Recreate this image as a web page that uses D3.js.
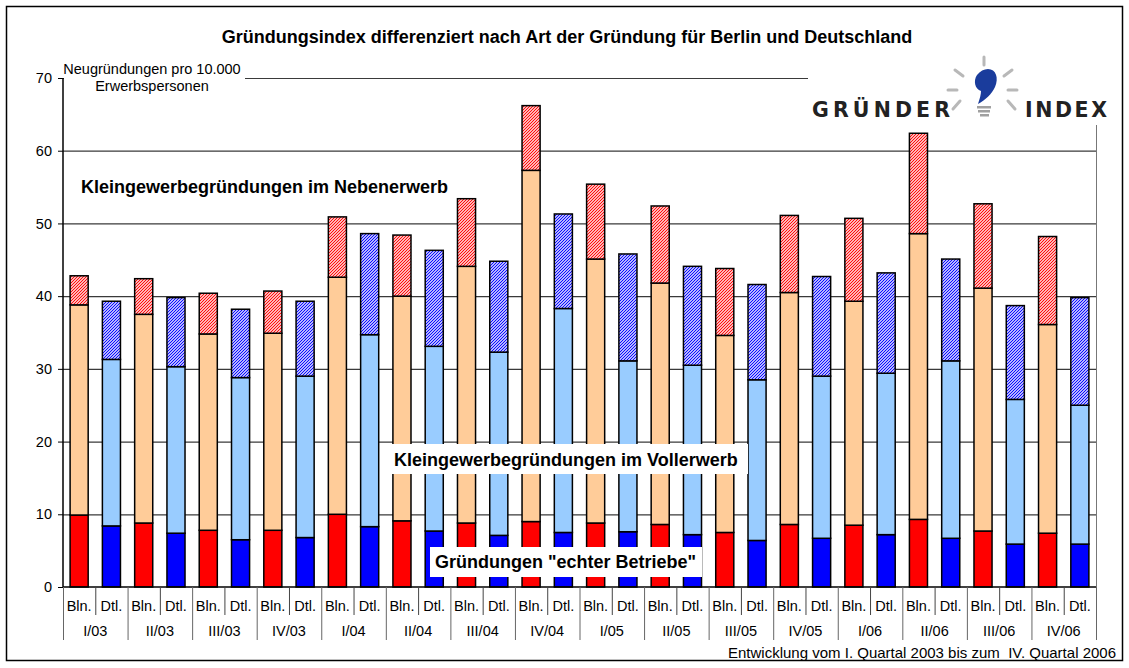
<!DOCTYPE html>
<html>
<head>
<meta charset="utf-8">
<script src="https://cdn.jsdelivr.net/npm/d3@7"></script>
<style>
  body { margin: 0; background: #fff; }
  svg { display: block; font-family: Arial, "Liberation Sans", sans-serif; }
</style>
</head>
<body>
<svg id="chart" width="1129" height="668"></svg>
<script>
// Quarters and regions
const quarters = ["I/03", "II/03", "III/03", "IV/03", "I/04", "II/04", "III/04", "IV/04",
  "I/05", "II/05", "III/05", "IV/05", "I/06", "II/06", "III/06", "IV/06"];
const regions = ["Bln.", "Dtl."];

// Gründungen "echter Betriebe"
const echtBln = [9.9, 8.8, 7.8, 7.8, 10.0, 9.1, 8.8, 9.0, 8.8, 8.6, 7.5, 8.6, 8.5, 9.3, 7.7, 7.4];
const echtDtl = [8.4, 7.4, 6.5, 6.8, 8.3, 7.7, 7.1, 7.5, 7.6, 7.2, 6.4, 6.7, 7.2, 6.7, 5.9, 5.9];
// Kleingewerbegründungen im Vollerwerb
const vollBln = [28.9, 28.7, 27.0, 27.1, 32.6, 30.9, 35.3, 48.3, 36.3, 33.2, 27.1, 31.9, 30.8, 39.3, 33.4, 28.7];
const vollDtl = [22.9, 22.9, 22.3, 22.2, 26.4, 25.4, 25.2, 30.8, 23.5, 23.3, 22.1, 22.3, 22.2, 24.4, 19.9, 19.1];
// Kleingewerbegründungen im Nebenerwerb
const nebenBln = [4.0, 4.9, 5.6, 5.8, 8.3, 8.4, 9.3, 8.9, 10.3, 10.6, 9.2, 10.6, 11.4, 13.8, 11.6, 12.1];
const nebenDtl = [8.0, 9.5, 9.4, 10.3, 13.9, 13.2, 12.5, 13.0, 14.7, 13.6, 13.1, 13.7, 13.8, 14.0, 12.9, 14.8];

const yTicks = [0, 10, 20, 30, 40, 50, 60, 70];

const svg = d3.select("#chart");

// Build one row per bar
const rows = quarters.flatMap((q, i) => [
  { q, r: "Bln.", echt: echtBln[i], voll: vollBln[i], neben: nebenBln[i] },
  { q, r: "Dtl.", echt: echtDtl[i], voll: vollDtl[i], neben: nebenDtl[i] }
]);
const series = d3.stack().keys(["echt", "voll", "neben"])(rows);

// Scales
const plotL = 63, plotR = 1096, plotT = 78, plotB = 587;
const x0 = d3.scaleBand().domain(quarters).range([plotL, plotR]);
const x1 = d3.scaleBand().domain(regions).range([0, x0.bandwidth()])
  .paddingInner(0.44).paddingOuter(0.22);
const y = d3.scaleLinear().domain([0, 70]).range([plotB, plotT]);

const fills = {
  echt: { "Bln.": "#ff0000", "Dtl.": "#0000ff" },
  voll: { "Bln.": "#ffcc99", "Dtl.": "#99ccff" },
  neben: { "Bln.": "url(#hatchRed)", "Dtl.": "url(#hatchBlue)" }
};

// Hatch patterns for Nebenerwerb
const defs = svg.append("defs");
[["hatchRed", "#ff0000"], ["hatchBlue", "#0000ff"]].forEach(([id, c]) => {
  const p = defs.append("pattern").attr("id", id)
    .attr("patternUnits", "userSpaceOnUse").attr("width", 3).attr("height", 3);
  p.append("rect").attr("width", 3).attr("height", 3).attr("fill", "#fff");
  p.append("path").attr("d", "M-1,1 L1,-1 M0,3 L3,0 M2,4 L4,2")
    .attr("stroke", c).attr("stroke-width", 1.1);
});

// Outer frame
svg.append("rect").attr("x", 6.5).attr("y", 6.5).attr("width", 1116).attr("height", 654)
  .attr("fill", "#fff").attr("stroke", "#000").attr("stroke-width", 1.5);

// Title
svg.append("text").attr("x", 567).attr("y", 43).attr("text-anchor", "middle")
  .attr("font-size", 18).attr("font-weight", "bold")
  .text("Gründungsindex differenziert nach Art der Gründung für Berlin und Deutschland");

// Gridlines
svg.append("g").selectAll("line").data(yTicks.filter((d) => d > 0)).join("line")
  .attr("x1", plotL).attr("x2", plotR)
  .attr("y1", (d) => y(d) + 0.5).attr("y2", (d) => y(d) + 0.5)
  .attr("stroke", "#3a3a3a").attr("stroke-width", 1.2);

// Right border of plot area
svg.append("line").attr("x1", plotR + 0.5).attr("x2", plotR + 0.5)
  .attr("y1", plotT).attr("y2", plotB).attr("stroke", "#777");

// Bars
svg.append("g").selectAll("g").data(series).join("g")
  .selectAll("rect").data((s) => s.map((d) => ({ key: s.key, d }))).join("rect")
  .attr("x", (e) => x0(e.d.data.q) + x1(e.d.data.r))
  .attr("width", x1.bandwidth())
  .attr("y", (e) => y(e.d[1]))
  .attr("height", (e) => y(e.d[0]) - y(e.d[1]))
  .attr("fill", (e) => fills[e.key][e.d.data.r])
  .attr("stroke", "#000").attr("stroke-width", 1.5);

// Y axis
const yAxis = svg.append("g");
yAxis.append("line").attr("x1", plotL).attr("x2", plotL).attr("y1", plotT).attr("y2", plotB)
  .attr("stroke", "#000").attr("stroke-width", 1.5);
yAxis.selectAll("line.tick").data(yTicks).join("line").attr("class", "tick")
  .attr("x1", plotL - 5).attr("x2", plotL).attr("y1", (d) => y(d) + 0.5).attr("y2", (d) => y(d) + 0.5)
  .attr("stroke", "#000");
yAxis.selectAll("text").data(yTicks).join("text")
  .attr("x", plotL - 11).attr("y", (d) => y(d)).attr("dy", "0.35em")
  .attr("text-anchor", "end").attr("font-size", 14.5).text((d) => d);

// X axis
const xAxis = svg.append("g");
xAxis.append("line").attr("x1", plotL).attr("x2", plotR).attr("y1", plotB).attr("y2", plotB)
  .attr("stroke", "#000").attr("stroke-width", 1.5);
const qBounds = [...quarters.map((q) => x0(q)), plotR];
xAxis.selectAll("line.qsep").data(qBounds).join("line").attr("class", "qsep")
  .attr("x1", (d) => d + 0.5).attr("x2", (d) => d + 0.5).attr("y1", plotB).attr("y2", 640)
  .attr("stroke", "#666");
xAxis.selectAll("line.rsep").data(quarters).join("line").attr("class", "rsep")
  .attr("x1", (q) => x0(q) + x0.bandwidth() / 2 + 0.5).attr("x2", (q) => x0(q) + x0.bandwidth() / 2 + 0.5)
  .attr("y1", plotB).attr("y2", 615).attr("stroke", "#444");
xAxis.selectAll("text.reg").data(rows).join("text").attr("class", "reg")
  .attr("x", (d) => x0(d.q) + x1(d.r) + x1.bandwidth() / 2).attr("y", 611)
  .attr("text-anchor", "middle").attr("font-size", 14.5).text((d) => d.r);
xAxis.selectAll("text.q").data(quarters).join("text").attr("class", "q")
  .attr("x", (q) => x0(q) + x0.bandwidth() / 2).attr("y", 636)
  .attr("text-anchor", "middle").attr("font-size", 14.5).text((q) => q);

// Axis title box
svg.append("rect").attr("x", plotL + 1).attr("y", 56).attr("width", 181).attr("height", 41).attr("fill", "#fff");
svg.append("text").attr("x", 152).attr("y", 74).attr("text-anchor", "middle")
  .attr("font-size", 14.5).text("Neugründungen pro 10.000");
svg.append("text").attr("x", 152).attr("y", 91).attr("text-anchor", "middle")
  .attr("font-size", 14.5).text("Erwerbspersonen");

// Series annotations
svg.append("text").attr("x", 81).attr("y", 193).attr("font-size", 18).attr("font-weight", "bold")
  .text("Kleingewerbegründungen im Nebenerwerb");
svg.append("rect").attr("x", 390).attr("y", 444).attr("width", 358).attr("height", 30).attr("fill", "#fff");
svg.append("text").attr("x", 394).attr("y", 466).attr("font-size", 18).attr("font-weight", "bold")
  .text("Kleingewerbegründungen im Vollerwerb");
svg.append("rect").attr("x", 430).attr("y", 547).attr("width", 272).attr("height", 30).attr("fill", "#fff");
svg.append("text").attr("x", 435).attr("y", 568).attr("font-size", 18).attr("font-weight", "bold")
  .text("Gründungen \"echter Betriebe\"");

// Footer
svg.append("text").attr("x", 1116).attr("y", 658).attr("text-anchor", "end")
  .attr("font-size", 15).style("white-space", "pre")
  .text("Entwicklung vom I. Quartal 2003 bis zum  IV. Quartal 2006");

// Logo
const logo = svg.append("g");
logo.append("rect").attr("x", 808).attr("y", 52).attr("width", 312).attr("height", 73).attr("fill", "#fff");
logo.append("text").attr("x", 812).attr("y", 117).attr("font-family", "'DejaVu Sans', Verdana, sans-serif")
  .attr("font-size", 20.5).attr("font-weight", "bold").attr("fill", "#222")
  .attr("textLength", 138).attr("lengthAdjust", "spacing").text("GRÜNDER");
logo.append("text").attr("x", 1025).attr("y", 117).attr("font-family", "'DejaVu Sans', Verdana, sans-serif")
  .attr("font-size", 20.5).attr("font-weight", "bold").attr("fill", "#222")
  .attr("textLength", 82).attr("lengthAdjust", "spacing").text("INDEX");
const rays = [[984, 57, 984, 65], [955, 70, 963, 76], [1012, 70, 1004, 76],
  [948, 90, 957, 90], [1008, 90, 1017, 90], [953, 109, 960, 101], [1015, 109, 1008, 101]];
logo.selectAll("line").data(rays).join("line")
  .attr("x1", (d) => d[0]).attr("y1", (d) => d[1]).attr("x2", (d) => d[2]).attr("y2", (d) => d[3])
  .attr("stroke", "#b8b8b8").attr("stroke-width", 3).attr("stroke-linecap", "round");
logo.append("path")
  .attr("d", "M988,69 C996,69 999,78 995,87 C992,94 985,100 978,104 C980,98 981,94 981,91 C975,89 973,81 977,75 C980,71 984,69 988,69 Z")
  .attr("fill", "#1a3c9c");
[[977, 106, 14], [978, 110, 12], [980, 114, 9]].forEach(([bx, by, bw]) => {
  logo.append("rect").attr("x", bx).attr("y", by).attr("width", bw).attr("height", 2.5).attr("fill", "#a0a0a0");
});
</script>
</body>
</html>
